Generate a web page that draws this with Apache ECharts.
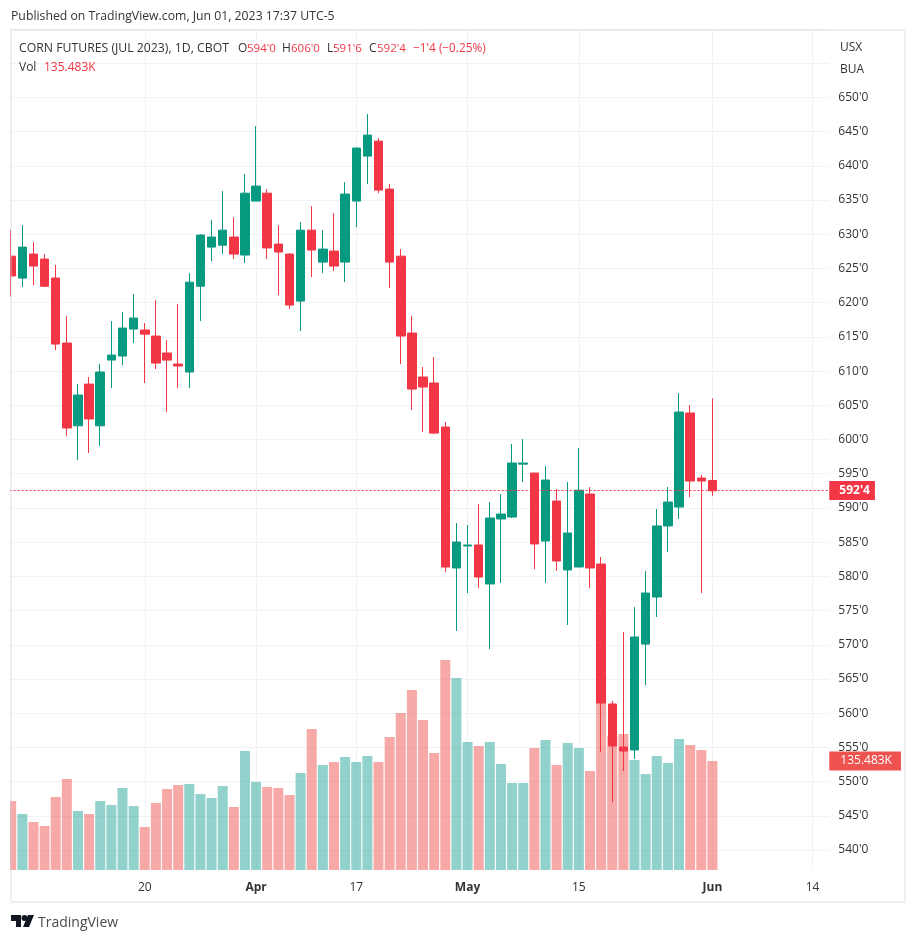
<!DOCTYPE html>
<html>
<head>
<meta charset="utf-8">
<title>Corn futures</title>
<script src="https://cdn.jsdelivr.net/npm/echarts@6/dist/echarts.min.js"></script>
<style>
  html, body { margin: 0; padding: 0; background: #fff; }
  #chart { width: 916px; height: 941px; }
</style>
</head>
<body>
<div id="chart"></div>
<script>
const FONT = '"Open Sans", "Noto Sans", sans-serif';
const UP = '#089981';
const DOWN = '#F23645';
const GRID = '#f1f2f5';
const INK = '#333';

// date, open, high, low, close, volume (K)
const rows = [
  ['Mar 2', 626.8, 630.6, 620.9, 623.9, 85.8],
  ['Mar 3', 623.59, 631.34, 622.28, 628.12, 69.6],
  ['Mar 6', 627.1, 628.86, 622.57, 625.35, 59.7],
  ['Mar 7', 626.37, 627.1, 622.28, 622.4, 54.7],
  ['Mar 8', 623.6, 625.5, 613.07, 613.95, 90.7],
  ['Mar 9', 614.1, 618.04, 600.5, 601.68, 113.1],
  ['Mar 10', 602, 608.1, 597, 606.5, 73.3],
  ['Mar 13', 608.1, 609.13, 598.02, 603, 69.6],
  ['Mar 14', 602, 611.03, 599.05, 609.86, 85.8],
  ['Mar 15', 611.61, 617.31, 607.52, 612.34, 80.8],
  ['Mar 16', 612.2, 618.63, 610.88, 616.29, 101.9],
  ['Mar 17', 616.14, 621.26, 614.1, 617.75, 79.5],
  ['Mar 20', 616, 617.02, 608.25, 615.4, 53.4],
  ['Mar 21', 615.12, 620.38, 610.3, 611.17, 83.3],
  ['Mar 22', 612.64, 614.53, 604, 611.61, 100.7],
  ['Mar 23', 611.03, 619.8, 607.52, 610.74, 105.6],
  ['Mar 24', 609.86, 624.32, 607.52, 623, 106.9],
  ['Mar 27', 622.4, 630.02, 617.31, 629.88, 94.5],
  ['Mar 28', 628.12, 632.07, 626.08, 629.59, 89.5],
  ['Mar 29', 628.4, 636.3, 627.1, 630.6, 104.4],
  ['Mar 30', 629.59, 632.5, 626.37, 627.1, 78.3],
  ['Mar 31', 626.96, 638.8, 625.8, 636, 147.9],
  ['Apr 3', 634.85, 645.8, 634.85, 637.04, 109.4],
  ['Apr 4', 636, 636.6, 626.37, 628, 103.2],
  ['Apr 5', 628.56, 631.34, 621.1, 627.4, 101.9],
  ['Apr 6', 627.1, 627.25, 619.06, 619.65, 93.2],
  ['Apr 10', 620.23, 631.78, 615.85, 630.6, 120.6],
  ['Apr 11', 630.6, 634.1, 623.74, 627.69, 175.2],
  ['Apr 12', 625.93, 630.6, 624.32, 627.83, 130.5],
  ['Apr 13', 627.54, 633.09, 624.62, 625.35, 134.2],
  ['Apr 14', 625.93, 637.62, 623, 635.87, 140.4],
  ['Apr 17', 634.85, 642.74, 631.05, 642.59, 134.2],
  ['Apr 18', 641.42, 647.56, 637.33, 644.49, 141.7],
  ['Apr 19', 643.61, 644.05, 636.01, 636.45, 134.2],
  ['Apr 20', 636.6, 637.33, 622.13, 625.93, 165.3],
  ['Apr 21', 626.8, 627.83, 611.03, 615.12, 195.1],
  ['Apr 24', 615.56, 618.04, 604.3, 607.37, 223.7],
  ['Apr 25', 609.13, 610.59, 601.09, 607.67, 186.4],
  ['Apr 26', 608.25, 612.05, 600.8, 600.94, 145.4],
  ['Apr 27', 601.82, 602.55, 580.63, 581.36, 261],
  ['Apr 28', 581.22, 587.79, 572.01, 585.02, 238.6],
  ['May 1', 584.43, 587.5, 577.56, 584.58, 159.1],
  ['May 2', 584.58, 590.57, 578.29, 579.9, 154.1],
  ['May 3', 578.88, 590.86, 569.38, 588.52, 159.1],
  ['May 4', 588.38, 592.03, 579.03, 589.1, 131.7],
  ['May 5', 588.67, 599.34, 588.52, 596.56, 108.1],
  ['May 8', 596.4, 600.07, 593.78, 596.56, 108.1],
  ['May 9', 595.1, 595.1, 581.07, 584.73, 151.6],
  ['May 10', 585.16, 596.12, 579.03, 594.08, 161.6],
  ['May 11', 591, 592.76, 580.78, 582.24, 130.5],
  ['May 12', 580.93, 593.78, 572.89, 586.33, 157.8],
  ['May 15', 581.36, 598.75, 581.36, 592.6, 151.6],
  ['May 16', 592.03, 593.05, 578.29, 581.22, 123],
  ['May 17', 581.8, 582.83, 554.32, 561.48, 242.4],
  ['May 18', 561.34, 561.78, 547, 555.2, 166.5],
  ['May 19', 555.05, 571.86, 551.55, 554.47, 169],
  ['May 22', 554.62, 575.51, 553.3, 571.13, 136.7],
  ['May 23', 570.1, 580.77, 564.11, 577.56, 119.3],
  ['May 24', 576.98, 589.84, 574.06, 587.36, 141.7],
  ['May 25', 587.36, 593.05, 583.56, 590.86, 133],
  ['May 26', 590.13, 606.79, 588.38, 604.01, 162.8],
  ['May 30', 603.87, 605.04, 591.59, 593.93, 155.4],
  ['May 31', 594.37, 594.81, 577.56, 593.93, 149.1],
  ['Jun 1', 594, 606, 591.75, 592.5, 135.483]
];
const futureDays = ['Jun 2', 'Jun 5', 'Jun 6', 'Jun 7', 'Jun 8', 'Jun 9', 'Jun 12', 'Jun 13', 'Jun 14', 'Jun 15'];

const dates = rows.map(r => r[0]).concat(futureDays);
// echarts order: open, close, low, high
const candles = rows.map(r => [r[1], r[4], r[3], r[2]]);
const volumes = rows.map(r => ({
  value: r[5],
  itemStyle: { color: r[4] >= r[1] ? 'rgba(38,166,154,0.5)' : 'rgba(239,83,80,0.5)' }
}));

// time scale ticks and their text
const timeLabels = { 'Mar 20': '20', 'Apr 3': '{b|Apr}', 'Apr 17': '17', 'May 1': '{b|May}', 'May 15': '15', 'Jun 1': '{b|Jun}', 'Jun 14': '14' };
const isTimeTick = i => dates[i] in timeLabels;

function priceLabel(v) {
  return v > 650 ? '' : v + "'0";
}

function headerText(x, y, text, color, size) {
  return { type: 'text', x, y, z: 20, style: { text, fill: color, font: `${size || 12}px ${FONT}`, textVerticalAlign: 'middle' } };
}

const chart = echarts.init(document.getElementById('chart'));
chart.setOption({
  animation: false,
  backgroundColor: '#fff',
  grid: [
    // price pane, 660 sits on the frame, 540 at y=850
    { left: 5.64, width: 823.66, top: 29, height: 821 },
    // volume pane, full height
    { left: 5.64, width: 823.66, top: 30, height: 840 }
  ],
  xAxis: [
    { type: 'category', gridIndex: 0, data: dates, show: false },
    {
      type: 'category', gridIndex: 1, data: dates,
      axisLine: { show: false },
      axisTick: { show: false },
      splitLine: { show: true, alignWithLabel: true, interval: isTimeTick, lineStyle: { color: GRID, width: 1 } },
      axisLabel: {
        interval: isTimeTick,
        margin: 12,
        color: INK,
        fontFamily: FONT,
        fontSize: 12,
        formatter: v => timeLabels[v] || '',
        rich: { b: { fontWeight: 'bold', fontFamily: FONT, fontSize: 12, color: INK } }
      }
    }
  ],
  yAxis: [
    {
      type: 'value', gridIndex: 0, position: 'right', min: 540, max: 660, interval: 5,
      axisLine: { show: false },
      axisTick: { show: false },
      splitLine: { show: true, lineStyle: { color: GRID, width: 1 } },
      axisLabel: { margin: 9, color: INK, fontFamily: FONT, fontSize: 12, padding: [4, 0, 0, 0], formatter: priceLabel }
    },
    { type: 'value', gridIndex: 1, min: 0, max: 1044.1, show: false, splitLine: { show: false } }
  ],
  series: [
    {
      name: 'Vol', type: 'bar', xAxisIndex: 1, yAxisIndex: 1, data: volumes, barWidth: 10, z: 1,
      markLine: {
        silent: true, symbol: 'none', animation: false,
        lineStyle: { color: 'rgba(0,0,0,0)', width: 1 },
        label: {
          show: true, position: 'end', distance: 0, formatter: '135.483K', color: '#fff', backgroundColor: '#EF5350',
          fontFamily: FONT, fontSize: 12, padding: [4, 9, 3, 11]
        },
        data: [{ yAxis: 135.483 }]
      }
    },
    {
      name: 'CORN', type: 'candlestick', xAxisIndex: 0, yAxisIndex: 0, data: candles, barWidth: 9, z: 3,
      itemStyle: { color: UP, color0: DOWN, borderColor: UP, borderColor0: DOWN, borderWidth: 1 },
      markLine: {
        silent: true, symbol: 'none', animation: false,
        lineStyle: { color: DOWN, type: [2, 2], width: 1, opacity: 1 },
        label: {
          position: 'end', distance: 0, formatter: "592'4", color: '#fff', backgroundColor: DOWN, fontWeight: 'bold',
          fontFamily: FONT, fontSize: 12, padding: [4, 5, 3, 10]
        },
        // nudged a hair so the dots land on one pixel row
        data: [{ yAxis: 592.55 }]
      }
    }
  ],
  graphic: [
    // hides the part of the pane left of the frame
    { type: 'rect', z: 10, shape: { x: 0, y: 25, width: 10, height: 880 }, style: { fill: '#fff' } },
    // see-through so the clipped first candle still shows faintly under it
    { type: 'rect', z: 11, shape: { x: 11, y: 30, width: 894, height: 872 }, style: { fill: 'none', stroke: 'rgba(206,209,226,0.35)', lineWidth: 2 } },
    headerText(11, 17, 'Published on TradingView.com, Jun 01, 2023 17:37 UTC-5', INK, 12.25),
    headerText(19, 49, 'CORN FUTURES (JUL 2023), 1D, CBOT', INK, 12.25),
    headerText(238, 49, 'O', INK, 12),
    headerText(247, 49, "594'0", DOWN, 11.5),
    headerText(282, 49, 'H', INK, 12),
    headerText(291, 49, "606'0", DOWN, 11.5),
    headerText(327, 49, 'L', INK, 12),
    headerText(333, 49, "591'6", DOWN, 11.5),
    headerText(369, 49, 'C', INK, 12),
    headerText(377, 49, "592'4", DOWN, 11.5),
    headerText(413, 49, "\u22121'4 (\u22120.25%)", DOWN, 11.8),
    headerText(19, 68, 'Vol', INK, 12),
    headerText(44, 68, '135.483K', DOWN, 12),
    headerText(840, 48, 'USX', INK, 12),
    headerText(840, 70, 'BUA', INK, 12),
    // logo
    { type: 'polygon', z: 20, shape: { points: [[11, 915], [21, 915], [21, 927], [16, 927], [16, 921], [11, 921]] }, style: { fill: '#131722' } },
    { type: 'circle', z: 20, shape: { cx: 24.5, cy: 918, r: 3 }, style: { fill: '#131722' } },
    { type: 'polygon', z: 20, shape: { points: [[28, 915], [34, 915], [29, 927], [23, 927]] }, style: { fill: '#131722' } },
    headerText(38, 923, 'TradingView', '#4a4a4a', 14)
  ]
});
</script>
</body>
</html>
